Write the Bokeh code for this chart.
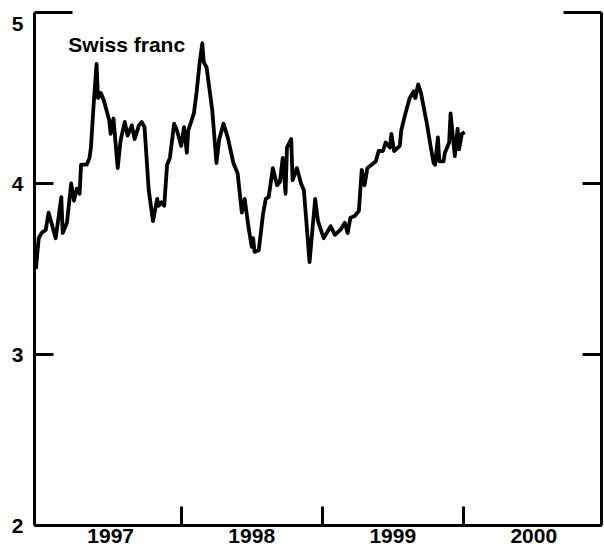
from bokeh.plotting import figure
from bokeh.models import Range1d, LinearAxis, FixedTicker, CustomJSTickFormatter, Label
from bokeh.embed import file_html
from bokeh.resources import INLINE

# ---- data (decimal years, Swiss franc value) ----
years = [
    1996.97, 1996.99, 1997.01, 1997.04, 1997.06, 1997.09, 1997.11, 1997.15, 1997.16, 1997.19,
    1997.22, 1997.24, 1997.26, 1997.28, 1997.29, 1997.33, 1997.35, 1997.36, 1997.38, 1997.40,
    1997.41, 1997.43, 1997.45, 1997.49, 1997.50, 1997.52, 1997.55, 1997.57, 1997.60, 1997.62,
    1997.64, 1997.65, 1997.67, 1997.70, 1997.72, 1997.74, 1997.77, 1997.80, 1997.83, 1997.84,
    1997.86, 1997.88, 1997.90, 1997.92, 1997.95, 1997.97, 1998.00, 1998.02, 1998.04, 1998.05,
    1998.09, 1998.11, 1998.13, 1998.15, 1998.16, 1998.18, 1998.22, 1998.25, 1998.27, 1998.30,
    1998.33, 1998.37, 1998.40, 1998.43, 1998.45, 1998.48, 1998.50, 1998.51, 1998.52, 1998.55,
    1998.58, 1998.60, 1998.62, 1998.65, 1998.68, 1998.70, 1998.72, 1998.74, 1998.75, 1998.78,
    1998.79, 1998.82, 1998.85, 1998.87, 1998.91, 1998.95, 1998.97, 1999.01,
    1999.06, 1999.09, 1999.13, 1999.16, 1999.18, 1999.20, 1999.23, 1999.26, 1999.28, 1999.30,
    1999.32, 1999.35, 1999.38, 1999.40, 1999.43, 1999.45, 1999.48, 1999.49, 1999.51, 1999.55,
    1999.56, 1999.59, 1999.62, 1999.65, 1999.66, 1999.68, 1999.70, 1999.73, 1999.74, 1999.77,
    1999.79, 1999.80, 1999.82, 1999.83, 1999.86, 1999.87, 1999.90, 1999.91, 1999.94, 1999.96,
    1999.97, 1999.99, 2000.01,
]
franc = [
    3.50, 3.68, 3.71, 3.73, 3.83, 3.74, 3.68, 3.92, 3.71, 3.77,
    4.00, 3.90, 3.97, 3.94, 4.11, 4.11, 4.15, 4.21, 4.47, 4.70,
    4.50, 4.53, 4.49, 4.37, 4.29, 4.38, 4.09, 4.25, 4.36, 4.28,
    4.32, 4.34, 4.26, 4.34, 4.36, 4.33, 3.96, 3.78, 3.91, 3.87,
    3.89, 3.87, 4.11, 4.15, 4.35, 4.31, 4.22, 4.33, 4.18, 4.31,
    4.41, 4.54, 4.70, 4.82, 4.71, 4.68, 4.43, 4.12, 4.26, 4.35,
    4.27, 4.12, 4.06, 3.83, 3.91, 3.73, 3.63, 3.68, 3.60, 3.61,
    3.82, 3.91, 3.92, 4.09, 3.99, 4.01, 4.15, 3.94, 4.21, 4.26,
    4.02, 4.09, 4.00, 3.96, 3.54, 3.91, 3.78, 3.68,
    3.75, 3.70, 3.73, 3.77, 3.71, 3.80, 3.81, 3.84, 4.08, 3.99,
    4.09, 4.11, 4.13, 4.19, 4.19, 4.24, 4.21, 4.29, 4.19, 4.22,
    4.31, 4.41, 4.50, 4.54, 4.50, 4.58, 4.53, 4.40, 4.36, 4.21,
    4.12, 4.11, 4.27, 4.13, 4.13, 4.18, 4.24, 4.41, 4.16, 4.32,
    4.20, 4.29, 4.30,
]
year_labels = ["1997", "1998", "1999", "2000"]
y_ticks = [2, 3, 4, 5]
series_name = "Swiss franc"

FONT = "Liberation Sans"
FS = "21px"
FSTYLE = "bold"

label_pos = [int(s) + 0.5 for s in year_labels]
year_bounds = [int(s) for s in year_labels[1:]]
# the top label "5" is printed a little below its tick in the original
top_shift = 11 / 171.0
y_label_pos = y_ticks[:-1] + [y_ticks[-1] - top_shift]

p = figure(width=604, height=553, output_backend="svg", toolbar_location=None,
           x_range=Range1d(1996.96, 2000.98), y_range=Range1d(y_ticks[0], y_ticks[-1]),
           x_axis_location=None, y_axis_location=None,
           min_border_left=34, min_border_right=3, min_border_top=12, min_border_bottom=28)
p.outline_line_color = None
p.background_fill_color = "white"
p.border_fill_color = "white"
for g in p.grid:
    g.visible = False


def tick_axis():
    """Axis line + inward ticks, no labels (3,4 short; 5 long)."""
    return LinearAxis(ticker=FixedTicker(ticks=y_ticks[:-1], minor_ticks=[y_ticks[-1]]),
                      major_tick_in=19, major_tick_out=0,
                      minor_tick_in=38, minor_tick_out=0,
                      major_tick_line_width=3, minor_tick_line_width=3,
                      axis_line_width=3, axis_line_color="black",
                      major_tick_line_color="black", minor_tick_line_color="black",
                      major_label_text_font_size="1px", major_label_text_color=None,
                      major_label_standoff=0)


p.add_layout(tick_axis(), "left")
p.add_layout(tick_axis(), "right")

# labels-only axis on the left, outside the tick axis
label_axis = LinearAxis(ticker=FixedTicker(ticks=y_label_pos, minor_ticks=[]),
                        formatter=CustomJSTickFormatter(code="return String(Math.ceil(tick - 1e-9))"),
                        axis_line_color=None, major_tick_line_color=None,
                        minor_tick_line_color=None,
                        major_tick_in=0, major_tick_out=0,
                        major_label_text_font=FONT, major_label_text_font_size=FS,
                        major_label_text_font_style=FSTYLE,
                        major_label_text_color="black", major_label_standoff=11)
p.add_layout(label_axis, "left")

xa = LinearAxis(ticker=FixedTicker(ticks=label_pos, minor_ticks=year_bounds),
                formatter=CustomJSTickFormatter(code="return String(Math.floor(tick))"),
                major_label_overrides=dict(zip(label_pos, year_labels)),
                major_tick_in=0, major_tick_out=0,
                minor_tick_in=19, minor_tick_out=0,
                minor_tick_line_width=3, minor_tick_line_color="black",
                axis_line_width=3, axis_line_color="black",
                major_label_text_font=FONT, major_label_text_font_size=FS,
                major_label_text_font_style=FSTYLE,
                major_label_text_color="black", major_label_standoff=3)
p.add_layout(xa, "below")

p.line(years, franc, line_width=3.8, line_color="black", line_join="round")

p.add_layout(Label(x=1997.2, y=4.81, text=series_name, text_align="left",
                   text_baseline="middle", text_font=FONT, text_font_size=FS,
                   text_font_style=FSTYLE, text_color="black"))

open("out.html", "w").write(file_html(p, INLINE))
